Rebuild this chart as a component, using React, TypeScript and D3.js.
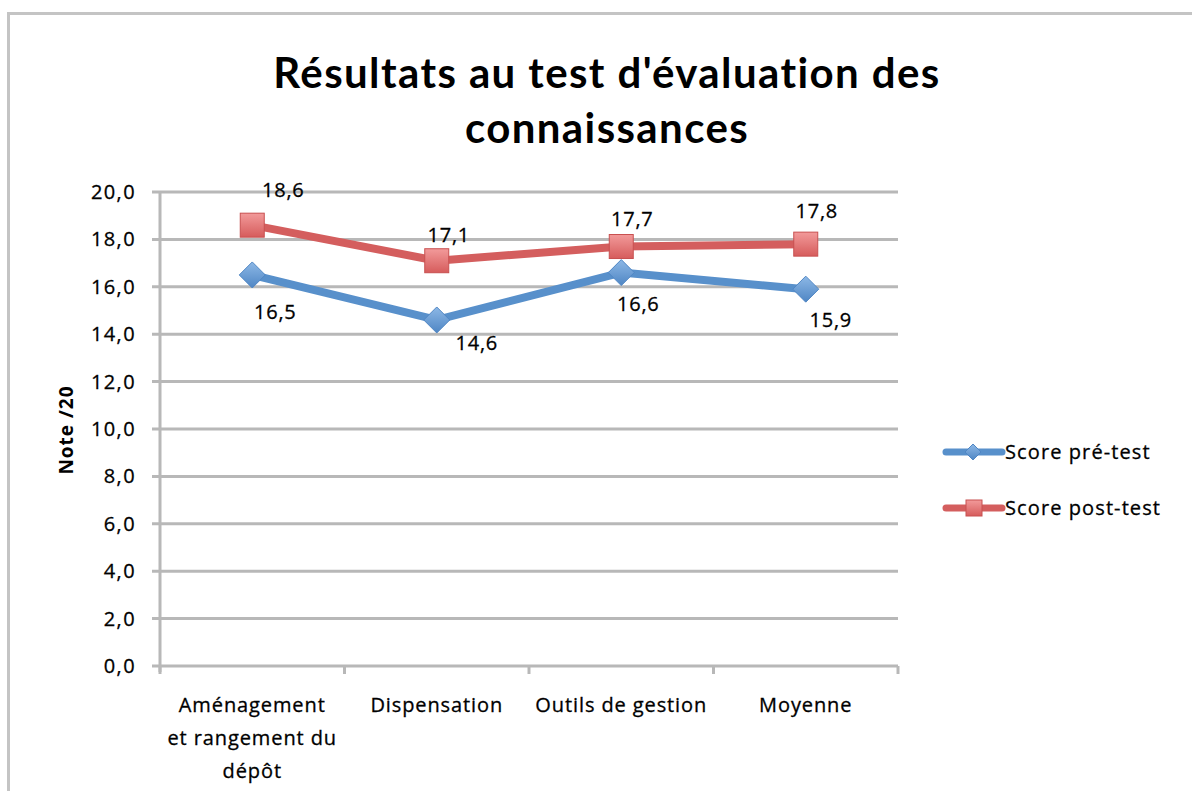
import React from "react";
import * as d3 from "d3";

const categories = ["Aménagement et rangement du dépôt", "Dispensation", "Outils de gestion", "Moyenne"];
const categoryLines = [["Aménagement", "et rangement du", "dépôt"], ["Dispensation"], ["Outils de gestion"], ["Moyenne"]];
const preTest = [16.5, 14.6, 16.6, 15.9];
const postTest = [18.6, 17.1, 17.7, 17.8];
const yTicks = [0, 2, 4, 6, 8, 10, 12, 14, 16, 18, 20];
const seriesNames = ["Score pré-test", "Score post-test"];
const titleLines = ["Résultats au test d'évaluation des", "connaissances"];

const W = 1192;
const H = 791;
const titleFont = "Lato, 'Open Sans', sans-serif";
const font = "'Open Sans', Lato, sans-serif";
const blue = "#5890CB";
const red = "#D45E5E";
const grid = "#b8b8b8";

export default function App() {
  const x = d3.scaleBand<string>().domain(categories).range([160, 898]);
  const y = d3.scaleLinear().domain([0, 20]).range([666, 192]);
  const fmt = (v: number) => v.toFixed(1).replace(".", ",");
  const cx = (i: number) => (x(categories[i]) as number) + x.bandwidth() / 2;
  const line = d3.line<number>().x((_, i) => cx(i)).y((d) => y(d));

  const preNudge = [[23, 37], [40, 23], [17, 31], [25, 31]];
  const postNudge = [[31, -35], [12, -26], [11, -28], [11, -33]];

  const diamond = (px: number, py: number, r: number) =>
    `M${px},${py - r}L${px + r},${py}L${px},${py + r}L${px - r},${py}Z`;

  return (
    <svg width={W} height={H} style={{ position: "absolute", left: 0, top: 0, display: "block" }}>
      <defs>
        <linearGradient id="gBlue" x1="0" y1="0" x2="0" y2="1">
          <stop offset="0" stopColor="#8DB8E6" />
          <stop offset="1" stopColor="#4F86C4" />
        </linearGradient>
        <linearGradient id="gRed" x1="0" y1="0" x2="0" y2="1">
          <stop offset="0" stopColor="#F29A9A" />
          <stop offset="1" stopColor="#D65C5C" />
        </linearGradient>
      </defs>
      <rect x={0} y={0} width={W} height={H} fill="#fff" />
      <rect x={8.5} y={13.5} width={W + 20} height={H + 20} fill="none" stroke="#c4c4c4" strokeWidth={3} />
      {titleLines.map((t, i) => (
        <text key={i} x={607} y={88 + i * 55} textAnchor="middle" fontFamily={titleFont} fontWeight="bold" fontSize={42} letterSpacing={1.4} fill="#000">
          {t}
        </text>
      ))}
      {yTicks.map((t) => (
        <g key={t}>
          <line x1={152} x2={898} y1={y(t)} y2={y(t)} stroke={grid} strokeWidth={3} />
          <text x={136} y={y(t) + 7} textAnchor="end" fontFamily={font} fontSize={20} letterSpacing={1.4} fill="#000" stroke="#000" strokeWidth={0.3}>
            {fmt(t)}
          </text>
        </g>
      ))}
      <line x1={160} x2={160} y1={y(20)} y2={y(0) + 6} stroke={grid} strokeWidth={3} />
      {d3.range(categories.length + 1).map((i) => {
        const xx = i < categories.length ? (x(categories[i]) as number) : x.range()[1];
        return <line key={i} x1={xx} x2={xx} y1={y(0)} y2={y(0) + 8} stroke={grid} strokeWidth={3} />;
      })}
      <text transform={`translate(73,430) rotate(-90)`} textAnchor="middle" fontFamily={font} fontWeight="bold" fontSize={19} letterSpacing={1} fill="#000">
        Note /20
      </text>
      {categoryLines.map((ls, i) => (
        <text key={i} textAnchor="middle" fontFamily={font} fontSize={20} letterSpacing={0.9} fill="#000" stroke="#000" strokeWidth={0.3}>
          {ls.map((l, j) => (
            <tspan key={j} x={cx(i)} y={712 + j * 33}>
              {l}
            </tspan>
          ))}
        </text>
      ))}
      <path d={line(preTest) as string} fill="none" stroke={blue} strokeWidth={8} strokeLinejoin="round" />
      <path d={line(postTest) as string} fill="none" stroke={red} strokeWidth={8} strokeLinejoin="round" />
      {preTest.map((v, i) => (
        <path key={i} d={diamond(cx(i), y(v), 13)} fill="url(#gBlue)" stroke="#4F86C4" strokeWidth={1} />
      ))}
      {postTest.map((v, i) => (
        <rect key={i} x={cx(i) - 12} y={y(v) - 12} width={24} height={24} fill="url(#gRed)" stroke="#C85050" strokeWidth={1} />
      ))}
      {preTest.map((v, i) => (
        <text key={i} x={cx(i) + preNudge[i][0]} y={y(v) + preNudge[i][1] + 7} textAnchor="middle" fontFamily={font} fontSize={20} letterSpacing={0.8} fill="#000" stroke="#000" strokeWidth={0.3}>
          {fmt(v)}
        </text>
      ))}
      {postTest.map((v, i) => (
        <text key={i} x={cx(i) + postNudge[i][0]} y={y(v) + postNudge[i][1] + 7} textAnchor="middle" fontFamily={font} fontSize={20} letterSpacing={0.8} fill="#000" stroke="#000" strokeWidth={0.3}>
          {fmt(v)}
        </text>
      ))}
      {seriesNames.map((n, i) => {
        const ly = 452 + i * 56;
        const c = i === 0 ? blue : red;
        return (
          <g key={n}>
            <line x1={946} x2={1002} y1={ly} y2={ly} stroke={c} strokeWidth={7} strokeLinecap="round" />
            {i === 0 ? (
              <path d={diamond(973, ly, 8)} fill="url(#gBlue)" stroke="#4F86C4" />
            ) : (
              <rect x={966} y={ly - 8} width={16} height={16} fill="url(#gRed)" stroke="#C85050" />
            )}
            <text x={1005} y={ly + 7} fontFamily={font} fontSize={20} letterSpacing={1.1} fill="#000" stroke="#000" strokeWidth={0.3}>
              {n}
            </text>
          </g>
        );
      })}
    </svg>
  );
}
